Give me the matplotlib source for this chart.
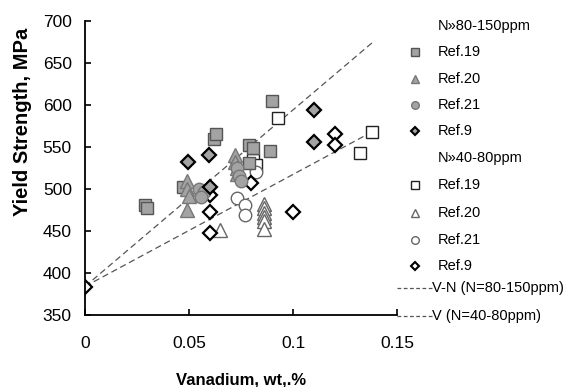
import matplotlib
matplotlib.use("Agg")
import matplotlib.pyplot as plt
from matplotlib.lines import Line2D
import numpy as np

plt.rcParams['font.family'] = ['Liberation Sans', 'DejaVu Sans']

# N ~ 80-150 ppm (filled)
ref19_hi_x = [0.029, 0.030, 0.047, 0.062, 0.063, 0.090, 0.079, 0.081, 0.089, 0.079]
ref19_hi_y = [481, 477, 502, 560, 565, 605, 552, 549, 545, 531]
ref20_hi_x = [0.049, 0.049, 0.050, 0.049, 0.072, 0.072, 0.073, 0.073]
ref20_hi_y = [510, 500, 492, 475, 540, 532, 525, 518]
ref21_hi_x = [0.055, 0.057, 0.056, 0.073, 0.074, 0.075]
ref21_hi_y = [500, 497, 490, 525, 515, 510]
ref9_hi_x = [0.0496, 0.0597, 0.060, 0.110, 0.110]
ref9_hi_y = [532, 540, 502, 594, 556]

# N ~ 40-80 ppm (open)
ref19_lo_x = [0.093, 0.081, 0.082, 0.138, 0.132]
ref19_lo_y = [584, 535, 528, 568, 543]
ref20_lo_x = [0.065, 0.086, 0.086, 0.086, 0.086, 0.086, 0.086]
ref20_lo_y = [451, 482, 477, 472, 467, 462, 452]
ref21_lo_x = [0.073, 0.077, 0.077, 0.082]
ref21_lo_y = [489, 481, 469, 520]
ref9_lo_x = [0.0, 0.060, 0.060, 0.060, 0.080, 0.100, 0.120, 0.120]
ref9_lo_y = [383, 493, 473, 448, 507, 473, 566, 552]

# fitted trend lines
line_vn_x = [0.0, 0.138]
line_vn_y = [384, 674]
line_v_x = [0.0, 0.138]
line_v_y = [384, 568]

legend_labels = ["N»80-150ppm", "Ref.19", "Ref.20", "Ref.21", "Ref.9",
                 "N»40-80ppm", "Ref.19", "Ref.20", "Ref.21", "Ref.9",
                 "V-N (N=80-150ppm)", "V (N=40-80ppm)"]

W, H = 566, 387
fig = plt.figure(figsize=(W/100, H/100), dpi=100)
ax = fig.add_axes([85/W, 1-315/H, (397-85)/W, (315-21)/H])

gray = '#a3a3a3'
gedge = '#555555'

ax.plot(line_vn_x, line_vn_y, ls=(0, (5, 3)), color='#555555', lw=0.9, zorder=1)
ax.plot(line_v_x, line_v_y, ls=(0, (5, 3)), color='#555555', lw=0.9, zorder=1)

ms = 8.5
ax.plot(ref19_lo_x, ref19_lo_y, 's', ms=ms, mfc='white', mec='#222222', mew=1.0, ls='none', zorder=2)
ax.plot(ref20_lo_x, ref20_lo_y, '^', ms=ms+1, mfc='white', mec='#666666', mew=1.0, ls='none', zorder=2)
ax.plot(ref21_lo_x, ref21_lo_y, 'o', ms=ms+0.5, mfc='white', mec='#666666', mew=1.0, ls='none', zorder=2)
ax.plot(ref9_lo_x, ref9_lo_y, 'D', ms=7, mfc='white', mec='black', mew=1.6, ls='none', zorder=2)

ax.plot(ref19_hi_x, ref19_hi_y, 's', ms=ms, mfc=gray, mec=gedge, mew=1.0, ls='none', zorder=3)
ax.plot(ref20_hi_x, ref20_hi_y, '^', ms=ms+1, mfc=gray, mec='#777777', mew=1.0, ls='none', zorder=3)
ax.plot(ref21_hi_x, ref21_hi_y, 'o', ms=ms+0.5, mfc=gray, mec='#777777', mew=1.0, ls='none', zorder=3)
ax.plot(ref9_hi_x, ref9_hi_y, 'D', ms=7, mfc=gray, mec='black', mew=1.6, ls='none', zorder=3)

ax.set_xlim(0, 0.15)
ax.set_ylim(350, 700)
ax.set_xticks([0, 0.05, 0.1, 0.15])
ax.set_xticklabels(['0', '0.05', '0.1', '0.15'])
ax.set_yticks(np.arange(350, 701, 50))
for s in ['top', 'right']:
    ax.spines[s].set_visible(False)
for s in ['left', 'bottom']:
    ax.spines[s].set_linewidth(1.3)
ax.tick_params(direction='in', length=4, width=1.2, labelsize=12.5, colors='black')
ax.tick_params(axis='x', pad=15)
ax.tick_params(axis='y', pad=9.5)
ax.set_xlabel('Vanadium, wt,.%', fontsize=12, fontweight='bold')
ax.xaxis.set_label_coords(0.5, -(380-315)/294, transform=ax.transAxes)
ax.xaxis.label.set_va('center')
ax.set_ylabel('Yield Strength, MPa', fontsize=14.5, fontweight='bold')
ax.yaxis.set_label_coords(-(85-23)/312, (315-122)/294, transform=ax.transAxes)
ax.yaxis.label.set_va('center')

# manual legend in figure pixel coordinates
rows_y = [26, 52, 79, 105, 131, 158, 185, 213, 240, 266, 288, 316]
handles = [None,
           dict(marker='s', mfc=gray, mec=gedge),
           dict(marker='^', mfc=gray, mec='#777777'),
           dict(marker='o', mfc=gray, mec='#777777'),
           dict(marker='D', mfc=gray, mec='black'),
           None,
           dict(marker='s', mfc='white', mec='#222222'),
           dict(marker='^', mfc='white', mec='#666666'),
           dict(marker='o', mfc='white', mec='#666666'),
           dict(marker='D', mfc='white', mec='black'),
           'line', 'line']
for lab, yy, h in zip(legend_labels, rows_y, handles):
    fy = 1 - yy/H
    if h == 'line':
        fig.add_artist(Line2D([397/W, 432/W], [fy, fy], transform=fig.transFigure,
                              ls=(0, (3, 2)), color='#555555', lw=0.9))
        fig.text(432/W, fy, lab, fontsize=10.5, va='center', ha='left')
    else:
        if h is not None:
            fig.add_artist(Line2D([415/W], [fy], transform=fig.transFigure, ls='none',
                                  ms=5.5 if h['marker'] != 'D' else 4.5, mew=1.0 if h['marker'] != 'D' else 1.5, **h))
        fig.text(438/W, fy, lab, fontsize=10.5, va='center', ha='left')

fig.savefig('out.png', dpi=100)
